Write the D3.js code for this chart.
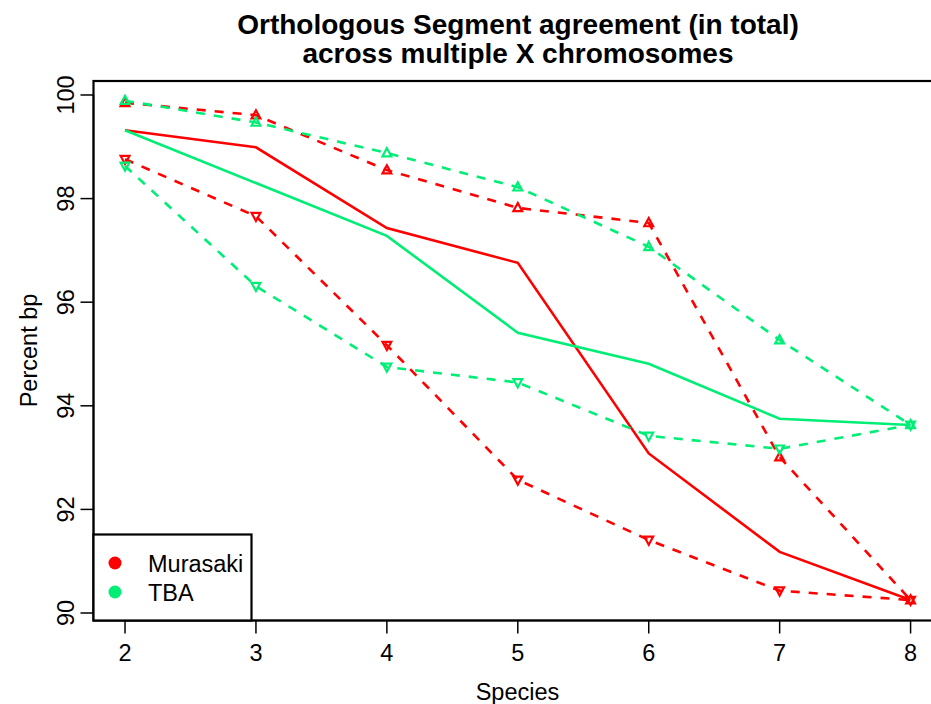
<!DOCTYPE html>
<html><head><meta charset="utf-8">
<script src="https://cdn.jsdelivr.net/npm/d3@7"></script>
<style>body{margin:0;background:#fff}svg{display:block}text{font-family:"Liberation Sans",Arial,sans-serif}</style>
</head><body>
<script>
const species = [2,3,4,5,6,7,8];
const murasakiMean  = [99.32, 98.99, 97.43, 96.76, 93.08, 91.18, 90.25];
const murasakiUpper = [99.85, 99.61, 98.55, 97.82, 97.53, 93.01, 90.25];
const murasakiLower = [98.76, 97.66, 95.17, 92.57, 91.41, 90.43, 90.25];
const tbaMean  = [99.32, 98.30, 97.28, 95.41, 94.81, 93.75, 93.63];
const tbaUpper = [99.89, 99.47, 98.88, 98.22, 97.07, 95.27, 93.63];
const tbaLower = [98.63, 96.31, 94.75, 94.45, 93.42, 93.17, 93.63];
const yTicks = [90, 92, 94, 96, 98, 100];
const seriesNames = ["Murasaki", "TBA"];
const colors = {Murasaki: "#ff0000", TBA: "#00ee76"};

const W = 931, H = 704;
const FS = 23.5;
const svg = d3.select("body").append("svg").attr("width", W).attr("height", H);
const x = d3.scaleLinear().domain([1.76, 8.24]).range([93.6, 942]);
const y = d3.scaleLinear().domain([89.865, 100.27]).range([620, 81]);

const line = d3.line().x((d,i)=>x(species[i])).y(d=>y(d));

const groups = [
  {name:"Murasaki", mean:murasakiMean, upper:murasakiUpper, lower:murasakiLower},
  {name:"TBA", mean:tbaMean, upper:tbaUpper, lower:tbaLower}
];
const g = svg.append("g");
groups.forEach(s => {
  const c = colors[s.name];
  g.append("path").attr("d", line(s.mean)).attr("fill","none").attr("stroke",c).attr("stroke-width",2.6);
  [s.upper, s.lower].forEach(arr => {
    g.append("path").attr("d", line(arr)).attr("fill","none").attr("stroke",c).attr("stroke-width",2.6).attr("stroke-dasharray","9,9");
  });
  const tri = (cx, cy, dir) => {
    const r = 4.4;
    return `M${cx},${cy - dir*r*1.1}L${cx+r},${cy + dir*r*0.75}L${cx-r},${cy + dir*r*0.75}Z`;
  };
  s.upper.forEach((v,i)=> g.append("path").attr("d", tri(x(species[i]), y(v), 1)).attr("fill","none").attr("stroke",c).attr("stroke-width",2.2));
  s.lower.forEach((v,i)=> g.append("path").attr("d", tri(x(species[i]), y(v), -1)).attr("fill","none").attr("stroke",c).attr("stroke-width",2.2));
});

// axes
const xAxis = svg.append("g").attr("transform","translate(0,620.5)");
xAxis.append("line").attr("x1",x(2)).attr("x2",x(8)).attr("stroke","#000").attr("stroke-width",1.5);
species.forEach(v=>{
  xAxis.append("line").attr("x1",x(v)).attr("x2",x(v)).attr("y1",0).attr("y2",13).attr("stroke","#000").attr("stroke-width",1.5);
  xAxis.append("text").attr("x",x(v)).attr("y",40).attr("text-anchor","middle").attr("font-size",FS).text(v);
});
const yAxis = svg.append("g").attr("transform","translate(93.5,0)");
yAxis.append("line").attr("y1",y(90)).attr("y2",y(100)).attr("stroke","#000").attr("stroke-width",1.5);
yTicks.forEach(v=>{
  yAxis.append("line").attr("x1",0).attr("x2",-13).attr("y1",y(v)).attr("y2",y(v)).attr("stroke","#000").attr("stroke-width",1.5);
  yAxis.append("text").attr("transform",`translate(-20,${y(v)}) rotate(-90)`).attr("text-anchor","middle").attr("font-size",FS).text(v);
});
// box
svg.append("rect").attr("x",93.5).attr("y",81).attr("width",942-93.5).attr("height",620.5-81).attr("fill","none").attr("stroke","#000").attr("stroke-width",2.2);

// labels
svg.append("text").attr("x",517.5).attr("y",700).attr("text-anchor","middle").attr("font-size",FS).text("Species");
svg.append("text").attr("transform","translate(37,350.5) rotate(-90)").attr("text-anchor","middle").attr("font-size",FS).text("Percent bp");
const title = svg.append("text").attr("text-anchor","middle").attr("font-size",28).attr("font-weight","bold");
title.append("tspan").attr("x",518).attr("y",34).text("Orthologous Segment agreement (in total)");
title.append("tspan").attr("x",518).attr("y",63).text("across multiple X chromosomes");

// legend
const lg = svg.append("g");
lg.append("rect").attr("x",93.5).attr("y",534.5).attr("width",158).attr("height",86).attr("fill","#fff").attr("stroke","#000").attr("stroke-width",2.2);
seriesNames.forEach((n,i)=>{
  lg.append("circle").attr("cx",115).attr("cy",563+i*29).attr("r",6.5).attr("fill",colors[n]);
  lg.append("text").attr("x",148).attr("y",571.5+i*29).attr("font-size",FS).text(n);
});
</script>
</body></html>
